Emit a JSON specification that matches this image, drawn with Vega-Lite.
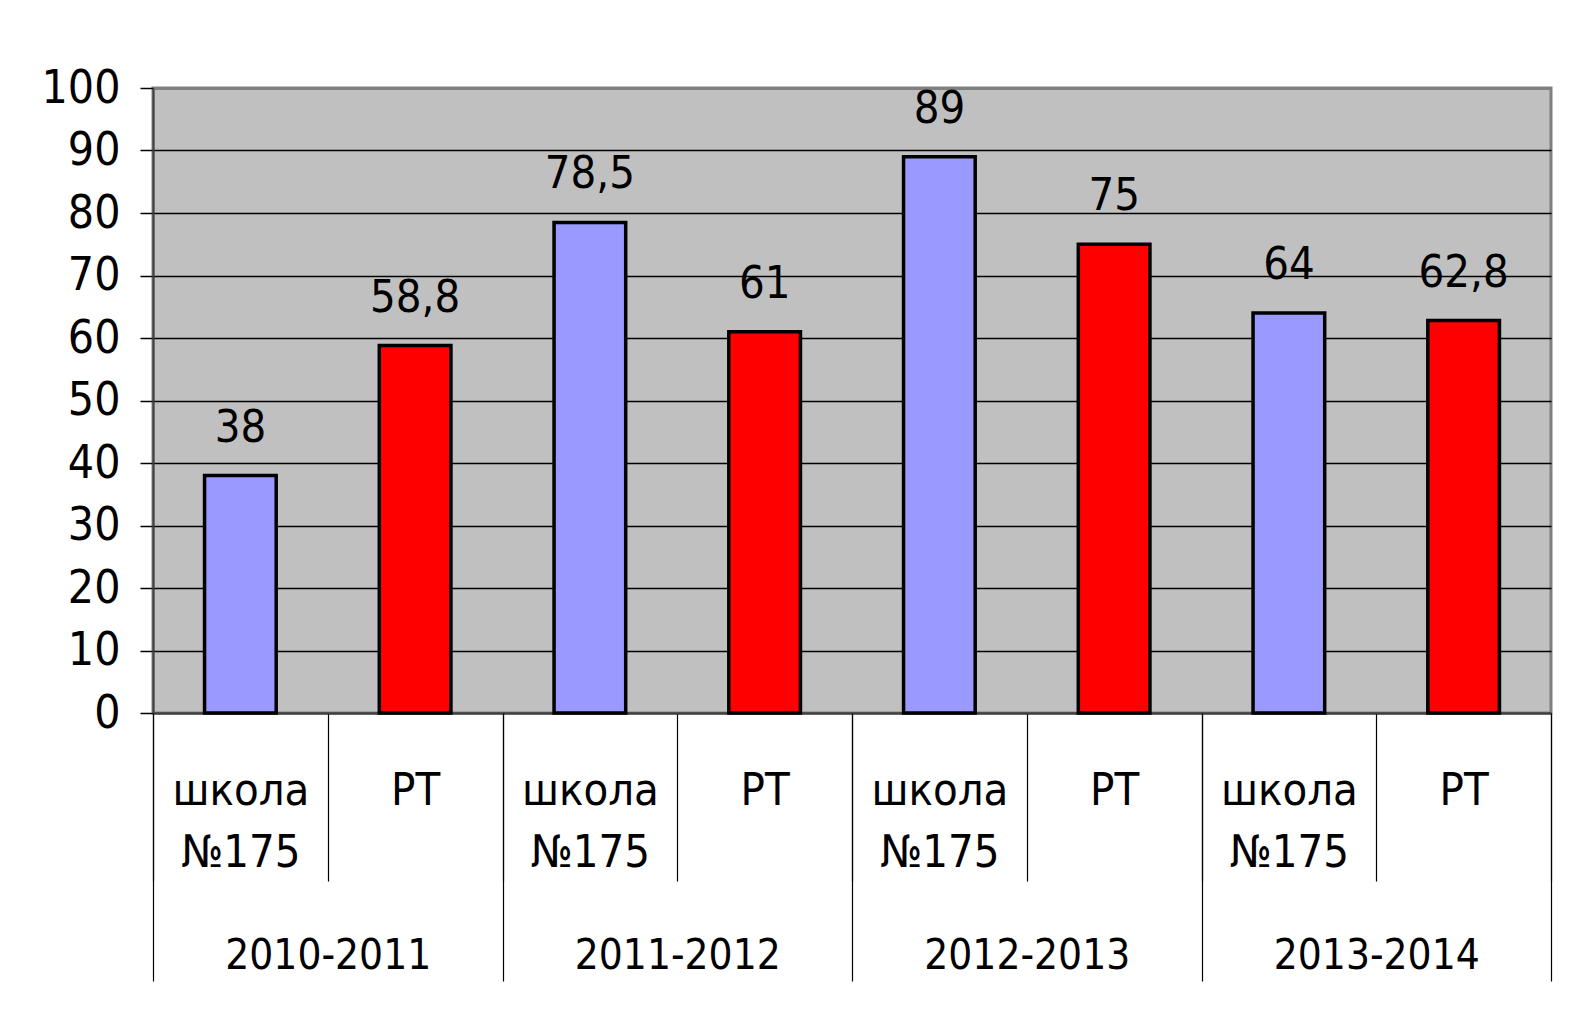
{
  "$schema": "https://vega.github.io/schema/vega-lite/v6.json",
  "width": 1398,
  "height": 625,
  "autosize": "none",
  "padding": {"left": 153, "top": 88, "right": 21, "bottom": 313},
  "background": "white",
  "config": {
    "view": {"fill": "#c0c0c0", "stroke": "#808080", "strokeWidth": 3},
    "font": "Liberation Sans Narrow, Arial Narrow, DejaVu Sans Condensed, sans-serif",
    "text": {"font": "Liberation Sans Narrow, Arial Narrow, DejaVu Sans Condensed, sans-serif"},
    "axis": {"labelFont": "Liberation Sans Narrow, Arial Narrow, DejaVu Sans Condensed, sans-serif", "labelLimit": 0}
  },
  "data": {
    "values": [
      {"key": "2010-2011 школа", "year": "2010-2011", "series": "школа №175", "value": 38, "label": "38"},
      {"key": "2010-2011 РТ", "year": "2010-2011", "series": "РТ", "value": 58.8, "label": "58,8"},
      {"key": "2011-2012 школа", "year": "2011-2012", "series": "школа №175", "value": 78.5, "label": "78,5"},
      {"key": "2011-2012 РТ", "year": "2011-2012", "series": "РТ", "value": 61, "label": "61"},
      {"key": "2012-2013 школа", "year": "2012-2013", "series": "школа №175", "value": 89, "label": "89"},
      {"key": "2012-2013 РТ", "year": "2012-2013", "series": "РТ", "value": 75, "label": "75"},
      {"key": "2013-2014 школа", "year": "2013-2014", "series": "школа №175", "value": 64, "label": "64"},
      {"key": "2013-2014 РТ", "year": "2013-2014", "series": "РТ", "value": 62.8, "label": "62,8"}
    ]
  },
  "layer": [
    {
      "mark": {"type": "bar", "width": {"band": 0.41}, "stroke": "black", "strokeWidth": 3.5},
      "encoding": {
        "x": {
          "field": "key", "type": "nominal", "sort": null,
          "scale": {"paddingInner": 0, "paddingOuter": 0},
          "axis": {
            "title": null, "orient": "bottom",
            "domain": true, "domainColor": "#404040", "domainWidth": 2,
            "ticks": true, "tickBand": "extent", "tickSize": 168, "tickColor": "black", "tickWidth": 1.2,
            "labelAngle": 0, "labelFontSize": 45, "labelColor": "black", "labelLimit": 0,
            "labelPadding": -77, "labelBaseline": "alphabetic", "labelLineHeight": 62,
            "labelFlush": false, "labelOverlap": false, "labelBound": false,
            "labelExpr": "indexof('' + datum.value, 'школа') >= 0 ? ['школа', '№175'] : (indexof('' + datum.value, 'РТ') >= 0 ? 'РТ' : '')"
          }
        },
        "y": {
          "field": "value", "type": "quantitative",
          "scale": {"domain": [0, 100], "nice": false},
          "axis": {
            "title": null, "values": [0, 10, 20, 30, 40, 50, 60, 70, 80, 90, 100],
            "domain": true, "domainColor": "#404040", "domainWidth": 2,
            "grid": true,
            "gridColor": {"condition": {"test": "datum.value === 100", "value": "#808080"}, "value": "black"},
            "gridWidth": {"condition": {"test": "datum.value === 100", "value": 3}, "value": 1.5},
            "tickSize": 13, "tickColor": "black", "tickWidth": 1.5,
            "labelFontSize": 46, "labelColor": "black", "labelPadding": 20,
            "labelFlush": false, "labelOverlap": false, "labelBound": false
          }
        },
        "color": {
          "field": "series", "type": "nominal",
          "scale": {"domain": ["школа №175", "РТ"], "range": ["#9999ff", "#ff0000"]},
          "legend": null
        }
      }
    },
    {
      "mark": {"type": "text", "fontSize": 45, "baseline": "alphabetic", "dy": -34, "color": "black"},
      "encoding": {
        "x": {"field": "key", "type": "nominal", "sort": null, "scale": {"paddingInner": 0, "paddingOuter": 0}, "axis": null},
        "y": {"field": "value", "type": "quantitative"},
        "text": {"field": "label"}
      }
    },
    {
      "mark": {"type": "tick", "opacity": 0},
      "encoding": {
        "x": {
          "field": "year", "type": "nominal", "sort": null,
          "scale": {"paddingInner": 0, "paddingOuter": 0},
          "axis": {
            "title": null, "orient": "bottom", "domain": false,
            "ticks": true, "tickBand": "extent", "tickSize": 268, "tickColor": "black", "tickWidth": 1.2,
            "labelAngle": 0, "labelFontSize": 42, "labelColor": "black", "labelLimit": 0,
            "labelPadding": -13, "labelBaseline": "alphabetic",
            "labelFlush": false, "labelOverlap": false, "labelBound": false
          }
        },
        "y": {"field": "value", "type": "quantitative"}
      }
    }
  ],
  "resolve": {"scale": {"x": "independent"}, "axis": {"x": "independent"}}
}
